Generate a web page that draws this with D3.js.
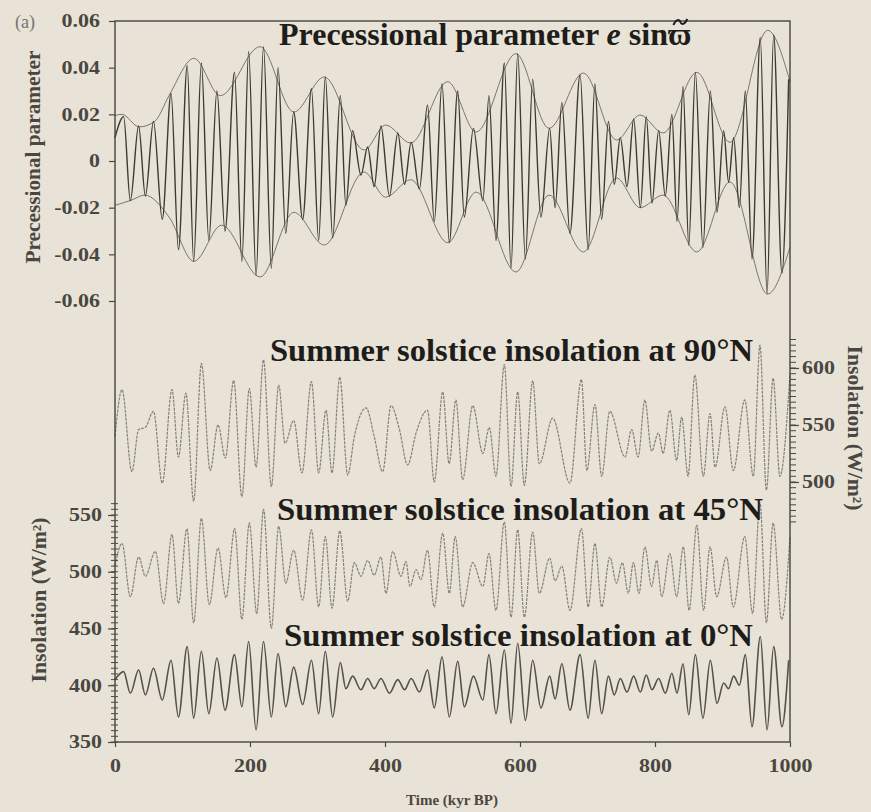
<!DOCTYPE html>
<html>
<head>
<meta charset="utf-8">
<script src="https://cdn.jsdelivr.net/npm/d3@7"></script>
<style>
  body { margin: 0; background: #e8e3d6; }
  svg { display: block; }
</style>
</head>
<body>
<svg id="chart"></svg>
<script>
// extrema times (kyr BP) shared by the precession curve and the 0°N insolation
let phaseTimes = [0, 12.8, 22.7, 35, 45, 57, 70, 83, 94, 107,
  116.5, 128, 139, 151, 163, 177, 188, 198, 209, 220,
  231.6, 241.5, 253, 264.7, 278, 291, 301.7, 311.6, 322.5, 333.8,
  342, 352, 364.4, 374.3, 384, 394, 406.6, 419, 429, 438.8,
  451, 463, 473, 484.5, 495.3, 507.7, 517.5, 531, 545, 554,
  564.4, 576.8, 586.7, 596.6, 608, 618.8, 631, 644, 652, 662,
  674, 689, 701, 711, 721, 731, 739.7, 748.6, 758.5, 768.4,
  778.3, 787, 795.5, 805.4, 815.3, 825, 832.6, 841.5, 850, 859.8,
  871, 882, 891.8, 901.7, 909, 916.5, 925, 933.8, 943.7, 956,
  966, 975.8, 988, 998];

let precValues = [0.010, 0.019, -0.017, 0.015, -0.015, 0.017, -0.025, 0.029, -0.038, 0.041,
  -0.043, 0.042, -0.034, 0.030, -0.030, 0.038, -0.043, 0.047, -0.049, 0.049,
  -0.046, 0.040, -0.031, 0.021, -0.025, 0.031, -0.034, 0.036, -0.033, 0.028,
  -0.019, 0.013, -0.006, 0.006, -0.011, 0.015, -0.015, 0.012, -0.010, 0.008,
  -0.012, 0.024, -0.026, 0.033, -0.035, 0.030, -0.024, 0.014, -0.017, 0.028,
  -0.034, 0.042, -0.046, 0.046, -0.042, 0.035, -0.024, 0.014, -0.020, 0.025,
  -0.031, 0.037, -0.038, 0.033, -0.025, 0.017, -0.010, 0.010, -0.011, 0.018,
  -0.020, 0.019, -0.018, 0.013, -0.015, 0.020, -0.026, 0.032, -0.036, 0.038,
  -0.037, 0.030, -0.022, 0.013, -0.009, 0.010, -0.020, 0.030, -0.042, 0.053,
  -0.057, 0.054, -0.048, 0.035];

let n0Values = [405, 412, 393, 413.5, 391.5, 415, 387, 422, 372, 434,
  371, 430, 375, 424, 378, 427, 381, 438.5, 360.6, 438.5,
  372, 428, 381, 416, 383, 422, 375, 430, 372, 420,
  397, 408, 396, 406, 397, 406, 393, 405, 396, 406,
  394, 413.5, 380, 425, 372, 421, 381, 408, 387, 427,
  375, 431, 366.5, 437, 369, 422, 380, 408, 388, 419,
  378, 427, 371, 422, 375, 408, 391.5, 406, 394, 408,
  394, 409, 396, 406, 393, 410.6, 393, 419, 374, 427,
  371, 422, 384, 402, 397, 408, 400, 427, 363.5, 443,
  360.6, 434, 363.5, 422];

// envelope of the precessional parameter
let envUpperTimes = [0, 10, 36, 59, 80, 117, 156, 215, 265, 310, 369, 401, 438, 493,
  535, 594, 643, 694, 743, 778, 812, 862, 911, 967, 1000];
let envUpperValues = [0.0195, 0.020, 0.0146, 0.017, 0.028, 0.044, 0.028, 0.049, 0.021, 0.036,
  0.0047, 0.0154, 0.0077, 0.034, 0.0124, 0.046, 0.014, 0.0377, 0.009, 0.0197,
  0.012, 0.038, 0.008, 0.056, 0.034];
let envLowerTimes = [0, 25, 44, 80, 117, 158, 215, 265, 310, 369, 401, 438, 493,
  535, 594, 643, 694, 743, 778, 812, 862, 911, 967, 1000];
let envLowerValues = [-0.019, -0.0167, -0.0146, -0.024, -0.043, -0.0275, -0.0497, -0.022, -0.036,
  -0.0047, -0.0155, -0.008, -0.035, -0.0133, -0.0476, -0.0146, -0.039, -0.0073,
  -0.020, -0.0146, -0.039, -0.009, -0.057, -0.037];

// summer solstice insolation at 90°N (right axis)
let n90Times = [0, 10.4, 25, 35, 45, 57, 70, 84.4, 94, 105,
  116.5, 128, 141, 152.6, 163.5, 175.8, 188, 199, 209, 220,
  231.6, 242.5, 252, 264.7, 277, 291, 301.7, 312.6, 321.5, 333,
  344.7, 354.6, 372, 384, 396.5, 409, 421, 433.6, 446, 463,
  473, 485.5, 495, 505, 515, 530, 545, 554.5, 564.4, 576.8,
  586.7, 596.6, 606.4, 618.8, 628.6, 648.4, 674, 691, 699, 711,
  721, 733, 755.6, 765.4, 775, 785, 795, 805, 812, 822,
  832, 839.5, 849, 859, 871.6, 881.5, 889, 903.7, 916, 933,
  945.6, 955.5, 965, 975, 985, 1000];
let n90Values = [540, 581, 509, 546, 548, 562, 499, 581, 522, 578,
  483, 604, 510, 550, 521, 589, 487, 582, 513, 607,
  496, 585, 534, 554, 508, 588, 508, 563, 508, 592,
  506, 540, 565, 540, 509, 567, 547, 515, 543, 563,
  500, 579, 516, 572, 502, 567, 525, 548, 505, 603,
  496, 579, 497, 589, 516, 556, 499, 590, 510, 568,
  505, 562, 522, 546, 522, 572, 527, 543, 525, 563,
  519, 557, 505, 594, 505, 560, 513, 566, 510, 572,
  505, 620, 493, 591, 505, 595];

// summer solstice insolation at 45°N (left axis)
let n45Times = [0, 10.4, 22.7, 35, 45, 59.7, 72, 84.4, 94, 106.6,
  116.5, 128, 139.7, 152.6, 164.4, 177.3, 188, 199, 210, 220,
  231.6, 242.5, 253, 264.7, 278, 291, 301.7, 311.6, 321.5, 333,
  344.7, 354.6, 364.4, 374.3, 384, 394, 401.5, 411.4, 423.7, 431,
  437, 446, 453.3, 463, 473, 485.5, 495.3, 504, 515, 530,
  545, 554, 564.4, 576.8, 586.7, 596.6, 606.4, 618.8, 628.6, 644,
  652, 662, 674, 691, 701, 711, 721, 733, 743, 751.6,
  760.5, 768, 776.3, 785, 795, 802.5, 810, 822, 832, 842,
  850.5, 862, 872, 881.5, 891.4, 906, 916, 933, 944.6, 955.5,
  965, 975, 987.6, 1000];
let n45Values = [505, 525, 478, 513, 496, 518, 472, 533, 472, 538,
  455, 547, 471, 521, 477, 538, 458, 543, 463, 555,
  450, 540, 490, 519, 475, 537, 469, 531, 468, 536,
  474, 508, 496, 510, 497, 513, 481, 518, 496, 509,
  487, 502, 493, 519, 469, 534, 481, 531, 469, 508,
  487, 516, 466, 544, 460, 537, 460, 535, 481, 512,
  492, 505, 466, 538, 469, 525, 469, 513, 490, 508,
  481, 508, 481, 522, 487, 510, 478, 516, 478, 522,
  466, 541, 466, 522, 478, 513, 469, 531, 463, 561,
  455, 543, 458, 531];

// tick labels
let precTicks = [0.06, 0.04, 0.02, 0, -0.02, -0.04, -0.06];
let leftTicks = [350, 400, 450, 500, 550];
let rightTicks = [500, 550, 600];
let timeTicks = [0, 200, 400, 600, 800, 1000];

let W = 871, H = 812;
let left = 115, right = 790;

let svg = d3.select("#chart")
    .attr("width", W)
    .attr("height", H)
    .style("font-family", "'Liberation Serif', 'DejaVu Serif', serif")

svg.append("rect")
    .attr("width", W)
    .attr("height", H)
    .attr("fill", "#e8e3d6")

let xScale = d3.scaleLinear().domain([0, 1000]).range([left, right]);
let yPrec = d3.scaleLinear().domain([-0.06, 0.06]).range([301, 21]);
let yLeft = d3.scaleLinear().domain([350, 550]).range([742, 515]);
let yRight = d3.scaleLinear().domain([500, 600]).range([482, 368]);

function pairs(times, values) {
    return times.map(function (t, i) { return [t, values[i]]; });
}

function drawSeries(data, yScale, stroke, width, dash) {
    let line = d3.line()
        .x(function (d) { return xScale(d[0]); })
        .y(function (d) { return yScale(d[1]); })
        .curve(d3.curveMonotoneX)
    svg.append("path")
        .datum(data)
        .attr("d", line)
        .attr("fill", "none")
        .attr("stroke", stroke)
        .attr("stroke-width", width)
        .attr("stroke-dasharray", dash || null)
        .attr("stroke-linejoin", "round")
}

// curves
drawSeries(pairs(envUpperTimes, envUpperValues), yPrec, "#6d6a64", 0.9);
drawSeries(pairs(envLowerTimes, envLowerValues), yPrec, "#6d6a64", 0.9);
drawSeries(pairs(phaseTimes, precValues), yPrec, "#3c3a36", 1.4);
drawSeries(pairs(n90Times, n90Values), yRight, "#858179", 1.2, "3,1");
drawSeries(pairs(n45Times, n45Values), yLeft, "#858179", 1.2, "3,1");
drawSeries(pairs(phaseTimes, n0Values), yLeft, "#55524c", 1.6);

// frame
svg.append("rect")
    .attr("x", left)
    .attr("y", 21)
    .attr("width", right - left)
    .attr("height", 742 - 21)
    .attr("fill", "none")
    .attr("stroke", "#3a3834")
    .attr("stroke-width", 1.3)

// axes; the scanned tick digits are wider than Times, so stretch them a bit
function styleAxis(g) {
    g.select(".domain").remove();
    g.selectAll("line").attr("stroke", "#4a4843").attr("stroke-width", 1.2);
    g.selectAll("text")
        .attr("fill", "#4a4741")
        .style("font-size", "18px")
        .style("font-weight", "bold")
        .style("font-family", "'Liberation Serif', serif")
        .each(function () {
            let w = this.getComputedTextLength();
            d3.select(this)
                .attr("textLength", w * 1.22)
                .attr("lengthAdjust", "spacingAndGlyphs");
        });
}

let precAxis = d3.axisLeft(yPrec)
    .tickValues(precTicks)
    .tickSize(6)
    .tickPadding(9)
    .tickFormat(function (d) { return d === 0 ? "0" : d.toFixed(2); })
svg.append("g")
    .attr("transform", "translate(" + left + ",0)")
    .call(precAxis)
    .call(styleAxis)

// minor ticks on the insolation axes
let leftMinor = d3.range(350, 561, 5);
svg.append("g")
    .selectAll("line")
    .data(leftMinor)
    .enter()
    .append("line")
    .attr("x1", left - 4)
    .attr("x2", left + 3)
    .attr("y1", function (d) { return yLeft(d); })
    .attr("y2", function (d) { return yLeft(d); })
    .attr("stroke", "#4a4843")
    .attr("stroke-width", 1)

let leftAxis = d3.axisLeft(yLeft)
    .tickValues(leftTicks)
    .tickSize(7)
    .tickPadding(6)
    .tickFormat(d3.format("d"))
svg.append("g")
    .attr("transform", "translate(" + left + ",0)")
    .call(leftAxis)
    .call(styleAxis)

let rightMinor = d3.range(465, 630, 5);
svg.append("g")
    .selectAll("line")
    .data(rightMinor)
    .enter()
    .append("line")
    .attr("x1", right)
    .attr("x2", right + 6)
    .attr("y1", function (d) { return yRight(d); })
    .attr("y2", function (d) { return yRight(d); })
    .attr("stroke", "#4a4843")
    .attr("stroke-width", 1)

let rightAxis = d3.axisRight(yRight)
    .tickValues(rightTicks)
    .tickSize(9)
    .tickPadding(3)
    .tickFormat(d3.format("d"))
svg.append("g")
    .attr("transform", "translate(" + right + ",0)")
    .call(rightAxis)
    .call(styleAxis)

let timeAxis = d3.axisBottom(xScale)
    .tickValues(timeTicks)
    .tickSize(5)
    .tickPadding(12)
    .tickFormat(d3.format("d"))
svg.append("g")
    .attr("transform", "translate(0,742)")
    .call(timeAxis)
    .call(styleAxis)

// titles inside the plot
function title(x, y, len, parts) {
    let t = svg.append("text")
        .attr("x", x)
        .attr("y", y)
        .attr("fill", "#1e1d1b")
        .style("font-size", "32px")
        .style("font-weight", "bold")
    if (len) {
        t.attr("textLength", len).attr("lengthAdjust", "spacingAndGlyphs");
    }
    parts.forEach(function (p) {
        t.append("tspan")
            .style("font-style", p.italic ? "italic" : "normal")
            .text(p.text)
    })
    return t;
}

let precTitle = title(279, 45, null, [
    {text: "Precessional parameter "},
    {text: "e", italic: true},
    {text: " sin\u03D6"}
]);

// tilde over the varpi, drawn as a small stroke so it does not collide as text
let tb = precTitle.node().getBBox();
let cx = tb.x + tb.width - 11;
let tilde = d3.path();
tilde.moveTo(cx - 7, 25);
tilde.bezierCurveTo(cx - 4, 19, cx - 1, 19, cx, 22);
tilde.bezierCurveTo(cx + 1, 25, cx + 4, 25, cx + 7, 19);
svg.append("path")
    .attr("d", tilde.toString())
    .attr("fill", "none")
    .attr("stroke", "#1e1d1b")
    .attr("stroke-width", 2)

title(270, 361, 483, [{text: "Summer solstice insolation at 90°N"}]);
title(277, 520, 486, [{text: "Summer solstice insolation at 45°N"}]);
title(284, 646, 469, [{text: "Summer solstice insolation at 0°N"}]);

// axis labels
svg.append("text")
    .attr("transform", "translate(40,157) rotate(-90)")
    .attr("text-anchor", "middle")
    .attr("textLength", 213)
    .attr("lengthAdjust", "spacingAndGlyphs")
    .attr("fill", "#4a4741")
    .style("font-size", "20px")
    .style("font-weight", "bold")
    .text("Precessional parameter")

svg.append("text")
    .attr("transform", "translate(46,600) rotate(-90)")
    .attr("text-anchor", "middle")
    .attr("textLength", 165)
    .attr("lengthAdjust", "spacingAndGlyphs")
    .attr("fill", "#4a4741")
    .style("font-size", "20px")
    .style("font-weight", "bold")
    .text("Insolation (W/m²)")

svg.append("text")
    .attr("transform", "translate(848,428) rotate(90)")
    .attr("text-anchor", "middle")
    .attr("textLength", 165)
    .attr("lengthAdjust", "spacingAndGlyphs")
    .attr("fill", "#4a4741")
    .style("font-size", "20px")
    .style("font-weight", "bold")
    .text("Insolation (W/m²)")

svg.append("text")
    .attr("x", 452)
    .attr("y", 805)
    .attr("text-anchor", "middle")
    .attr("fill", "#4a4741")
    .style("font-size", "15px")
    .style("font-weight", "bold")
    .text("Time (kyr BP)")

svg.append("text")
    .attr("x", 15)
    .attr("y", 28)
    .attr("fill", "#77736b")
    .style("font-size", "18px")
    .text("(a)")
</script>
</body>
</html>
